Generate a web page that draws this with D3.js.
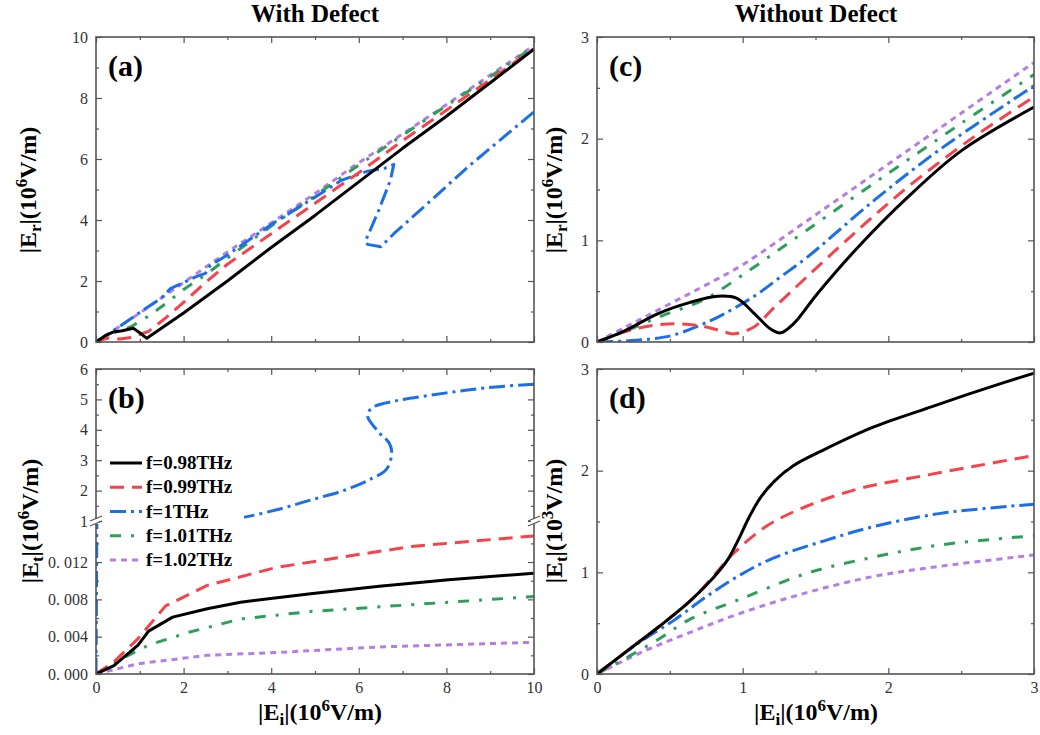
<!DOCTYPE html>
<html>
<head>
<meta charset="utf-8">
<script src="https://cdn.jsdelivr.net/npm/d3@7"></script>
<style>
  body { margin: 0; background: #fff; }
  svg { display: block; }
  svg text { font-family: "Liberation Serif", serif !important; }
</style>
</head>
<body>
<svg id="chart" width="1040" height="735"></svg>
<script>
// series (legend order)
const seriesNames = ["f=0.98THz", "f=0.99THz", "f=1THz", "f=1.01THz", "f=1.02THz"];

// (a) |Er| vs |Ei|, with defect  [Ei, Er]
const a098 = [[0,0],[0.2,0.2],[0.4,0.33],[0.6,0.37],[0.85,0.45],[1.0,0.3],[1.16,0.12],[2,0.95],[3,2.0],[4,3.1],[5,4.15],[6,5.25],[7,6.35],[8,7.4],[9,8.5],[10,9.6]];
const a099 = [[0,0],[0.15,0.08],[0.3,0.14],[0.55,0.1],[0.8,0.15],[1.2,0.35],[1.6,0.8],[2,1.3],[2.5,1.95],[3,2.55],[4,3.55],[5,4.55],[6,5.55],[7,6.6],[8,7.6],[9,8.6],[10,9.62]];
const a100 = [[0,0],[0.5,0.47],[1,0.97],[1.5,1.45],[1.7,1.75],[2.3,2.15],[2.5,2.25],[2.6,2.5],[3,2.85],[4,3.85],[5,4.75],[5.6,5.3],[6.2,5.6],[6.6,5.7],[6.8,5.82],[6.72,5.3],[6.45,4.3],[6.15,3.3],[6.2,3.2],[6.5,3.12],[6.8,3.55],[7.5,4.45],[8.5,5.75],[10,7.55]];
const a101 = [[0,0],[0.4,0.3],[0.8,0.5],[1.2,0.85],[1.6,1.27],[2,1.72],[2.5,2.2],[3,2.75],[4,3.8],[5,4.8],[6,5.8],[7,6.78],[8,7.75],[9,8.7],[10,9.68]];
const a102 = [[0,0],[0.3,0.28],[0.6,0.57],[1,0.95],[1.5,1.45],[2,1.95],[3,2.95],[4,3.9],[5,4.87],[6,5.88],[7,6.82],[8,7.78],[9,8.75],[10,9.72]];

// (b) |Et| vs |Ei|, with defect, broken axis
const b098 = [[0,0],[0.41,0.0009],[0.96,0.0031],[1.2,0.0046],[1.75,0.0061],[2.54,0.007],[3.3,0.0077],[4.9,0.0086],[6.47,0.0094],[8.05,0.0101],[10,0.0108]];
const b099 = [[0,0],[0.41,0.0013],[0.96,0.0038],[1.59,0.0073],[2.54,0.0095],[4.1,0.0114],[5.7,0.0126],[7.26,0.0137],[10,0.0148]];
const b100Lo = [[0,0],[0.01,0.008],[0.02,0.0164]];
const b100Hi = [[2.6,1.0],[3.24,1.09],[4.1,1.36],[4.9,1.69],[5.69,2.02],[6.3,2.4],[6.63,2.7],[6.75,3.2],[6.7,3.55],[6.47,3.9],[6.2,4.45],[6.3,4.72],[6.87,4.96],[7.65,5.14],[8.44,5.3],[9.2,5.42],[10,5.5]];
const b101 = [[0,0],[0.57,0.0016],[1.2,0.0031],[2.14,0.0045],[3.3,0.0059],[4.9,0.0067],[6.47,0.0072],[10,0.0083]];
const b102 = [[0,0],[0.96,0.0011],[2.54,0.002],[4.1,0.0023],[6.47,0.0029],[10,0.0034]];

// (c) |Er| vs |Ei|, without defect
const c098 = [[0,0],[0.19,0.11],[0.42,0.28],[0.64,0.39],[0.83,0.45],[0.96,0.43],[1.08,0.28],[1.19,0.13],[1.26,0.09],[1.35,0.18],[1.51,0.47],[1.79,0.93],[2.13,1.42],[2.5,1.88],[3,2.31]];
const c099 = [[0,0],[0.19,0.1],[0.37,0.16],[0.53,0.18],[0.71,0.16],[0.85,0.11],[0.94,0.08],[1.08,0.15],[1.21,0.33],[1.44,0.64],[1.79,1.1],[2.13,1.52],[2.58,2.01],[3,2.41]];
const c100 = [[0,0],[0.19,0.01],[0.37,0.03],[0.53,0.07],[0.78,0.21],[0.94,0.33],[1.1,0.47],[1.26,0.64],[1.44,0.83],[1.9,1.39],[2.36,1.9],[3,2.52]];
const c101 = [[0,0],[0.2,0.11],[0.45,0.26],[0.74,0.42],[1.0,0.66],[1.44,1.1],[2,1.66],[2.5,2.15],[3,2.63]];
const c102 = [[0,0],[0.2,0.15],[0.4,0.3],[0.6,0.45],[0.8,0.6],[1,0.76],[1.5,1.25],[2,1.75],[2.5,2.25],[3,2.75]];

// (d) |Et| vs |Ei|, without defect
const d098 = [[0,0],[0.2,0.22],[0.42,0.46],[0.64,0.72],[0.8,0.95],[0.9,1.13],[0.97,1.32],[1.04,1.53],[1.12,1.73],[1.22,1.9],[1.35,2.05],[1.55,2.2],[1.9,2.43],[2.3,2.63],[2.65,2.8],[3,2.96]];
const d099 = [[0,0],[0.2,0.22],[0.42,0.46],[0.64,0.72],[0.78,0.93],[0.94,1.19],[1.17,1.46],[1.44,1.65],[1.79,1.82],[2.13,1.92],[2.58,2.04],[3,2.15]];
const d100 = [[0,0],[0.3,0.32],[0.53,0.53],[0.76,0.77],[0.99,0.98],[1.21,1.14],[1.56,1.31],[1.9,1.45],[2.36,1.58],[3,1.67]];
const d101 = [[0,0],[0.19,0.15],[0.42,0.34],[0.64,0.54],[0.99,0.74],[1.44,0.99],[1.9,1.15],[2.36,1.27],[3,1.36]];
const d102 = [[0,0],[0.3,0.21],[0.64,0.41],[0.99,0.6],[1.44,0.8],[1.9,0.96],[2.36,1.06],[3,1.17]];

// ticks
const tenMajor = [0, 2, 4, 6, 8, 10];
const tenMinor = [1, 3, 5, 7, 9];
const threeMajor = [0, 1, 2, 3];
const threeMinor = [0.5, 1.5, 2.5];
const bHiMajor = [1, 2, 3, 4, 5, 6];
const bHiMinor = [1.5, 2.5, 3.5, 4.5, 5.5];
const bLoMajor = [0, 0.004, 0.008, 0.012];
const bLoMinor = [0.002, 0.006, 0.01, 0.014];

const colors = ["#000000", "#f4434a", "#1c6fe6", "#2f9e5c", "#b57fe2"];
const dashes = [null, "14,8", "16,5,3,5", "11,10,3,10", "6,5"];

const svg = d3.select("#chart");
const FRAME = "#555";

function ticks(g, axis, transform, values, len, fmt) {
  g.append("g")
    .attr("transform", transform)
    .call(axis.tickValues(values).tickSize(-len).tickPadding(8).tickFormat(fmt || (() => "")))
    .call(s => s.select(".domain").remove())
    .call(s => s.selectAll("line").attr("stroke", FRAME).attr("stroke-width", 1.2))
    .attr("font-size", 16)
    .call(s => s.selectAll("text").attr("fill", "#333"));
}

function frame(g, b) {
  g.append("rect")
    .attr("x", b.x0).attr("y", b.y0)
    .attr("width", b.x1 - b.x0).attr("height", b.y1 - b.y0)
    .attr("fill", "none").attr("stroke", FRAME).attr("stroke-width", 1.6);
}

function xTicks(g, b, x, major, minor, labels) {
  ticks(g, d3.axisBottom(x), `translate(0,${b.y1})`, major, 6, labels ? d3.format("d") : null);
  ticks(g, d3.axisBottom(x), `translate(0,${b.y1})`, minor, 3);
  ticks(g, d3.axisTop(x), `translate(0,${b.y0})`, major, 6);
  ticks(g, d3.axisTop(x), `translate(0,${b.y0})`, minor, 3);
}

function yTicks(g, b, y, major, minor, fmt) {
  ticks(g, d3.axisLeft(y), `translate(${b.x0},0)`, major, 6, fmt);
  ticks(g, d3.axisLeft(y), `translate(${b.x0},0)`, minor, 3);
  ticks(g, d3.axisRight(y), `translate(${b.x1},0)`, major, 6);
  ticks(g, d3.axisRight(y), `translate(${b.x1},0)`, minor, 3);
}

let clipId = 0;
function clip(b) {
  const id = "clip" + (clipId++);
  svg.append("clipPath").attr("id", id).append("rect")
    .attr("x", b.x0).attr("y", b.y0).attr("width", b.x1 - b.x0).attr("height", b.y1 - b.y0);
  return `url(#${id})`;
}

function drawLines(g, x, y, list, curve) {
  const line = d3.line().x(d => x(d[0])).y(d => y(d[1])).curve(curve);
  list.forEach(([data, i]) => {
    g.append("path").datum(data)
      .attr("d", line)
      .attr("fill", "none")
      .attr("stroke", colors[i])
      .attr("stroke-width", 3)
      .attr("stroke-dasharray", dashes[i])
      .attr("stroke-linejoin", "round");
  });
}

function panelLetter(b, s) {
  svg.append("text").attr("x", b.x0 + 12).attr("y", b.y0 + 39)
    .attr("font-size", 30).attr("font-weight", "bold").text(s);
}

// y label: |E_sub|(10^sup V/m), rotated
function yLabel(cx, cy, sub, sup) {
  const t = svg.append("text")
    .attr("transform", `translate(${cx},${cy}) rotate(-90)`)
    .attr("text-anchor", "middle").attr("font-size", 24).attr("font-weight", "bold");
  t.append("tspan").text("|E");
  t.append("tspan").attr("font-size", 17).attr("dy", 5).text(sub);
  t.append("tspan").attr("dy", -5).text("|(10");
  t.append("tspan").attr("font-size", 17).attr("dy", -9).text(sup);
  t.append("tspan").attr("dy", 9).text("V/m)");
}

function xLabel(cx, cy) {
  const t = svg.append("text").attr("x", cx).attr("y", cy)
    .attr("text-anchor", "middle").attr("font-size", 24).attr("font-weight", "bold");
  t.append("tspan").text("|E");
  t.append("tspan").attr("font-size", 17).attr("dy", 5).text("i");
  t.append("tspan").attr("dy", -5).text("|(10");
  t.append("tspan").attr("font-size", 17).attr("dy", -9).text("6");
  t.append("tspan").attr("dy", 9).text("V/m)");
}

const A = { x0: 96, x1: 534, y0: 37, y1: 342 };
const B = { x0: 96, x1: 534, y0: 369, y1: 674, brk: 521 };
const C = { x0: 597, x1: 1034, y0: 37, y1: 342 };
const D = { x0: 597, x1: 1034, y0: 369, y1: 674 };

// titles
svg.append("text").attr("x", 315).attr("y", 22).attr("text-anchor", "middle")
  .attr("font-size", 25).attr("font-weight", "bold").text("With Defect");
svg.append("text").attr("x", 816).attr("y", 22).attr("text-anchor", "middle")
  .attr("font-size", 25).attr("font-weight", "bold").text("Without Defect");

// ---- panel (a)
{
  const x = d3.scaleLinear().domain([0, 10]).range([A.x0, A.x1]);
  const y = d3.scaleLinear().domain([0, 10]).range([A.y1, A.y0]);
  const g = svg.append("g");
  const lines = g.append("g").attr("clip-path", clip(A));
  drawLines(lines, x, y, [[a102, 4], [a101, 3], [a100, 2], [a099, 1], [a098, 0]], d3.curveLinear);
  xTicks(g, A, x, tenMajor, tenMinor, false);
  yTicks(g, A, y, tenMajor, tenMinor, d3.format("d"));
  frame(g, A);
  panelLetter(A, "(a)");
  yLabel(36, 190, "r", "6");
}

// ---- panel (b), broken y axis
{
  const x = d3.scaleLinear().domain([0, 10]).range([B.x0, B.x1]);
  const yLo = d3.scaleLinear().domain([0, 0.0164]).range([B.y1, B.brk]);
  const yHi = d3.scaleLinear().domain([1, 6]).range([B.brk, B.y0]);
  const g = svg.append("g");
  const lo = g.append("g").attr("clip-path", clip({ x0: B.x0, x1: B.x1, y0: B.brk, y1: B.y1 }));
  const hi = g.append("g").attr("clip-path", clip({ x0: B.x0, x1: B.x1, y0: B.y0, y1: B.brk }));
  drawLines(lo, x, yLo, [[b102, 4], [b101, 3], [b100Lo, 2], [b099, 1], [b098, 0]], d3.curveLinear);
  drawLines(hi, x, yHi, [[b100Hi, 2]], d3.curveCatmullRom.alpha(0.5));

  xTicks(g, B, x, tenMajor, tenMinor, true);
  const loFmt = v => d3.format(".3f")(v).replace(".", ". ");
  yTicks(g, B, yLo, bLoMajor, bLoMinor, loFmt);
  yTicks(g, B, yHi, bHiMajor, bHiMinor, d3.format("d"));
  frame(g, B);

  // axis break marks
  [B.x0, B.x1].forEach(bx => {
    g.append("rect").attr("x", bx - 3).attr("y", B.brk - 2).attr("width", 6).attr("height", 5).attr("fill", "#fff");
    [-2, 3].forEach(o => {
      g.append("line")
        .attr("x1", bx - 6).attr("y1", B.brk + o + 2)
        .attr("x2", bx + 6).attr("y2", B.brk + o - 3)
        .attr("stroke", FRAME).attr("stroke-width", 1.3);
    });
  });

  // legend
  const leg = g.append("g");
  leg.append("rect").attr("x", 104).attr("y", 451).attr("width", 140).attr("height", 121).attr("fill", "#fff");
  const rowY = d3.scalePoint().domain(seriesNames).range([463, 560]);
  seriesNames.forEach((name, i) => {
    leg.append("line")
      .attr("x1", 110).attr("x2", 142)
      .attr("y1", rowY(name)).attr("y2", rowY(name))
      .attr("stroke", colors[i]).attr("stroke-width", 3)
      .attr("stroke-dasharray", dashes[i]);
    leg.append("text").attr("x", 146).attr("y", rowY(name) + 6)
      .attr("font-size", 19).attr("font-weight", "bold").text(name);
  });

  panelLetter(B, "(b)");
  yLabel(38, 521, "t", "6");
  xLabel(320, 720);
}

// ---- panel (c)
{
  const x = d3.scaleLinear().domain([0, 3]).range([C.x0, C.x1]);
  const y = d3.scaleLinear().domain([0, 3]).range([C.y1, C.y0]);
  const g = svg.append("g");
  const lines = g.append("g").attr("clip-path", clip(C));
  drawLines(lines, x, y, [[c102, 4], [c101, 3], [c100, 2], [c099, 1], [c098, 0]], d3.curveCatmullRom.alpha(0.5));
  xTicks(g, C, x, threeMajor, threeMinor, false);
  yTicks(g, C, y, threeMajor, threeMinor, d3.format("d"));
  frame(g, C);
  panelLetter(C, "(c)");
  yLabel(562, 190, "r", "6");
}

// ---- panel (d)
{
  const x = d3.scaleLinear().domain([0, 3]).range([D.x0, D.x1]);
  const y = d3.scaleLinear().domain([0, 3]).range([D.y1, D.y0]);
  const g = svg.append("g");
  const lines = g.append("g").attr("clip-path", clip(D));
  drawLines(lines, x, y, [[d102, 4], [d101, 3], [d100, 2], [d099, 1], [d098, 0]], d3.curveCatmullRom.alpha(0.5));
  xTicks(g, D, x, threeMajor, threeMinor, true);
  yTicks(g, D, y, threeMajor, threeMinor, d3.format("d"));
  frame(g, D);
  panelLetter(D, "(d)");
  yLabel(562, 521, "t", "3");
  xLabel(816, 720);
}
</script>
</body>
</html>
